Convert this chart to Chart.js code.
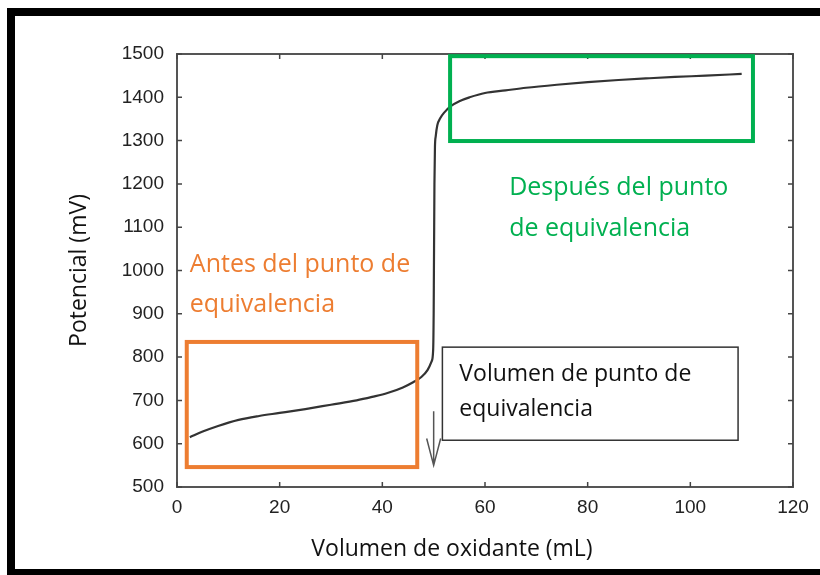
<!DOCTYPE html>
<html><head><meta charset="utf-8">
<script src="https://cdn.jsdelivr.net/npm/chart.js@4"></script>
<style>
html,body{margin:0;padding:0;background:#fff;}
#wrap{position:relative;width:820px;height:575px;overflow:hidden;background:#fff;}
canvas{position:absolute;left:0;top:0;}
.bar{position:absolute;background:#000;}
</style></head><body>
<div id="wrap">
<div class="bar" style="left:7px;top:8px;width:813px;height:8px"></div>
<div class="bar" style="left:7px;top:8px;width:8px;height:567px"></div>
<div class="bar" style="left:7px;top:569px;width:813px;height:6px"></div>
<canvas id="c" width="820" height="575"></canvas>
</div>
<script>
// ---- data ----
const volumeML = [2.5, 5, 8, 12, 16, 20, 25, 30, 35, 38, 41, 44, 46, 47.6, 48.8, 49.6, 49.9, 50.0, 50.05, 50.1, 50.15, 50.25, 50.4, 50.7, 51.3, 52.0, 53.4, 55, 57, 60, 64, 68, 74, 80, 86, 92, 97, 103, 110];
const potentialMV = [615, 628, 641, 655, 664, 671, 680, 690, 700, 708, 717, 730, 742, 754, 770, 790, 816, 900, 1000, 1100, 1200, 1285, 1310, 1335, 1352, 1364, 1380, 1391, 1400, 1410, 1416, 1422, 1429, 1435, 1440, 1444, 1447, 1450, 1454];
const xTickValues = [0, 20, 40, 60, 80, 100, 120];
const yTickValues = [500, 600, 700, 800, 900, 1000, 1100, 1200, 1300, 1400, 1500];
const xTitle = 'Volumen de oxidante (mL)';
const yTitle = 'Potencial (mV)';
const beforeLabel = ['Antes del punto de', 'equivalencia'];
const afterLabel = ['Después del punto', 'de equivalencia'];
const eqLabel = ['Volumen de punto de', 'equivalencia'];

const TEXT_FONT = '"Open Sans", "Noto Sans", sans-serif';
const TICK_FONT = '"Liberation Sans", Arial, sans-serif';

const decor = {
  id: 'decor',
  afterDraw(chart) {
    const {ctx, chartArea: a, scales: {x, y}} = chart;
    const X = v => x.getPixelForValue(v), Y = v => y.getPixelForValue(v);
    ctx.save();
    // top/right frame of the axes box
    ctx.strokeStyle = '#555'; ctx.lineWidth = 2;
    ctx.beginPath(); ctx.moveTo(a.left, a.top); ctx.lineTo(a.right, a.top); ctx.lineTo(a.right, a.bottom); ctx.stroke();
    // inward ticks
    ctx.lineWidth = 1.5; ctx.strokeStyle = '#444';
    ctx.beginPath();
    xTickValues.forEach(v => { const p = X(v); ctx.moveTo(p, a.bottom); ctx.lineTo(p, a.bottom - 5); ctx.moveTo(p, a.top); ctx.lineTo(p, a.top + 5); });
    yTickValues.forEach(v => { const p = Y(v); ctx.moveTo(a.left, p); ctx.lineTo(a.left + 5, p); ctx.moveTo(a.right, p); ctx.lineTo(a.right - 5, p); });
    ctx.stroke();

    // orange box
    ctx.strokeStyle = '#ED7D31'; ctx.lineWidth = 4;
    ctx.strokeRect(X(1.9), Y(835), X(46.8) - X(1.9), Y(546) - Y(835));
    // green box
    ctx.strokeStyle = '#00B050';
    ctx.strokeRect(X(53.2), Y(1495), X(112.2) - X(53.2), Y(1299) - Y(1495));
    // callout box
    ctx.strokeStyle = '#333'; ctx.lineWidth = 1.5;
    ctx.strokeRect(X(51.7), Y(823), X(109.3) - X(51.7), Y(608) - Y(823));
    // arrow
    ctx.strokeStyle = '#555'; ctx.lineWidth = 1.5;
    const ax = X(50.0);
    ctx.beginPath();
    ctx.moveTo(ax, Y(675)); ctx.lineTo(ax, Y(550));
    ctx.moveTo(ax - 7, Y(612)); ctx.lineTo(ax, Y(550)); ctx.lineTo(ax + 7, Y(612));
    ctx.stroke();

    // texts
    ctx.textBaseline = 'middle'; ctx.textAlign = 'left';
    ctx.font = '25px ' + TEXT_FONT;
    ctx.fillStyle = '#ED7D31';
    ctx.fillText(beforeLabel[0], X(2.5), Y(1013));
    ctx.fillText(beforeLabel[1], X(2.5), Y(920));
    ctx.fillStyle = '#00B050';
    ctx.fillText(afterLabel[0], X(64.7), Y(1190));
    ctx.fillText(afterLabel[1], X(64.7), Y(1096));
    ctx.fillStyle = '#111';
    ctx.font = '23px ' + TEXT_FONT;
    ctx.fillText(eqLabel[0], X(55), Y(761));
    ctx.fillText(eqLabel[1], X(55), Y(678));

    // x axis title
    ctx.fillStyle = '#111';
    ctx.textAlign = 'center';
    ctx.font = '23px ' + TEXT_FONT;
    ctx.fillText(xTitle, 452, 549);
    ctx.restore();
  }
};

new Chart(document.getElementById('c'), {
  type: 'line',
  data: {
    datasets: [{
      data: volumeML.map((v, i) => ({x: v, y: potentialMV[i]})),
      borderColor: '#333',
      borderWidth: 2.2,
      pointRadius: 0,
      fill: false,
      cubicInterpolationMode: 'monotone'
    }]
  },
  options: {
    responsive: false,
    animation: false,
    layout: {padding: {top: 54, right: 27, left: 0, bottom: 0}},
    plugins: {legend: {display: false}, tooltip: {enabled: false}},
    scales: {
      x: {
        type: 'linear', min: 0, max: 120,
        afterBuildTicks: s => { s.ticks = xTickValues.map(v => ({value: v})); },
        afterFit: s => { s.height = 88; },
        ticks: {font: {family: TICK_FONT, size: 19}, color: '#222', padding: 9, maxRotation: 0, callback: v => String(v)},
        grid: {display: false, drawTicks: false},
        border: {display: true, color: '#555', width: 2},
        title: {display: false}
      },
      y: {
        type: 'linear', min: 500, max: 1500,
        afterBuildTicks: s => { s.ticks = yTickValues.map(v => ({value: v})); },
        afterFit: s => { s.width = 177; },
        ticks: {font: {family: TICK_FONT, size: 19}, color: '#222', padding: 13, callback: v => String(v)},
        grid: {display: false, drawTicks: false},
        border: {display: true, color: '#555', width: 2},
        title: {display: true, text: yTitle, color: '#111', font: {family: TEXT_FONT, size: 23}, padding: {top: 66, bottom: 0}}
      }
    }
  },
  plugins: [decor]
});
</script>
</body></html>
